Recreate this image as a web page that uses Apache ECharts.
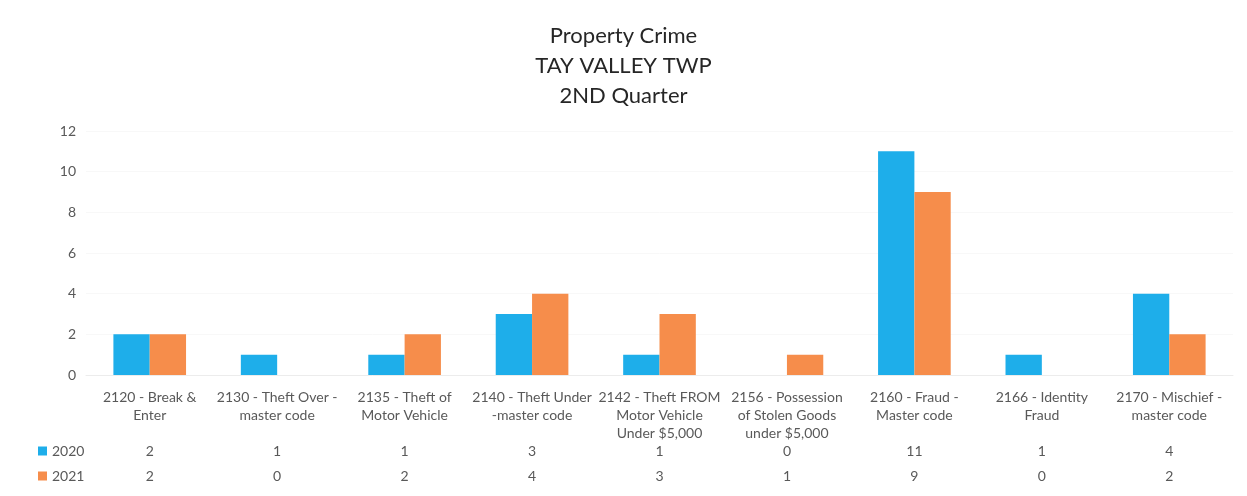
<!DOCTYPE html>
<html>
<head>
<meta charset="utf-8">
<script src="https://cdn.jsdelivr.net/npm/echarts@6/dist/echarts.min.js"></script>
<style>
  html, body { margin: 0; padding: 0; background: #fff; }
  #chart { width: 1247px; height: 496px; }
</style>
</head>
<body>
<div id="chart"></div>
<script>
// categories and values
const categories = [
  '2120 - Break &\nEnter',
  '2130 - Theft Over -\nmaster code',
  '2135 - Theft of\nMotor Vehicle',
  '2140 - Theft Under\n-master code',
  '2142 - Theft FROM\nMotor Vehicle\nUnder $5,000',
  '2156 - Possession\nof Stolen Goods\nunder $5,000',
  '2160 - Fraud -\nMaster code',
  '2166 - Identity\nFraud',
  '2170 - Mischief -\nmaster code'
]
const values2020 = [2, 1, 1, 3, 1, 0, 11, 1, 4]
const values2021 = [2, 0, 2, 4, 3, 1, 9, 0, 2]
const seriesNames = ['2020', '2021']

const blue = '#1eaeea'
const orange = '#f68d4b'
const textColor = '#595959'
const font = 'Lato, "Open Sans", sans-serif'

const myChart = echarts.init(document.getElementById('chart'))

// hidden axes that carry the data table rows under the categories
const tableAxis = (vals, offset) => ({
  type: 'category',
  data: vals.map(v => String(v)),
  position: 'bottom',
  offset: offset,
  gridIndex: 0,
  axisLine: { show: false },
  axisTick: { show: false },
  axisLabel: {
    interval: 0,
    margin: 0,
    color: textColor,
    fontFamily: font,
    fontSize: 14,
    lineHeight: 16
  }
})

const option = {
  backgroundColor: '#fff',
  title: {
    text: 'Property Crime\nTAY VALLEY TWP\n2ND Quarter',
    left: 'center',
    top: 16,
    textStyle: {
      color: '#262626',
      fontFamily: font,
      fontSize: 22,
      fontWeight: 'normal',
      lineHeight: 30
    }
  },
  legend: {
    orient: 'vertical',
    left: 38,
    top: 443,
    padding: 0,
    itemGap: 9,
    icon: 'rect',
    itemWidth: 9,
    itemHeight: 9,
    textStyle: {
      color: textColor,
      fontFamily: font,
      fontSize: 14,
      lineHeight: 16
    },
    data: seriesNames
  },
  grid: {
    left: 86,
    right: 14,
    top: 131,
    bottom: 121,
    containLabel: false
  },
  xAxis: [{
    type: 'category',
    data: categories,
    axisLine: { show: true, lineStyle: { color: '#ececec' } },
    axisTick: { show: false },
    axisLabel: {
      interval: 0,
      margin: 13,
      color: textColor,
      fontFamily: font,
      fontSize: 14,
      lineHeight: 18
    }
  },
  tableAxis(values2020, 68),
  tableAxis(values2021, 93)
  ],
  yAxis: {
    type: 'value',
    min: 0,
    max: 12,
    interval: 2,
    axisLine: { show: false },
    axisTick: { show: false },
    splitLine: { show: true, lineStyle: { color: '#f8f8f8' } },
    axisLabel: {
      margin: 10,
      color: textColor,
      fontFamily: font,
      fontSize: 14
    }
  },
  series: [{
    name: seriesNames[0],
    type: 'bar',
    data: values2020,
    barGap: '0%',
    barCategoryGap: '43%',
    itemStyle: { color: blue }
  }, {
    name: seriesNames[1],
    type: 'bar',
    data: values2021,
    itemStyle: { color: orange }
  }]
}

myChart.setOption(option)
</script>
</body>
</html>
